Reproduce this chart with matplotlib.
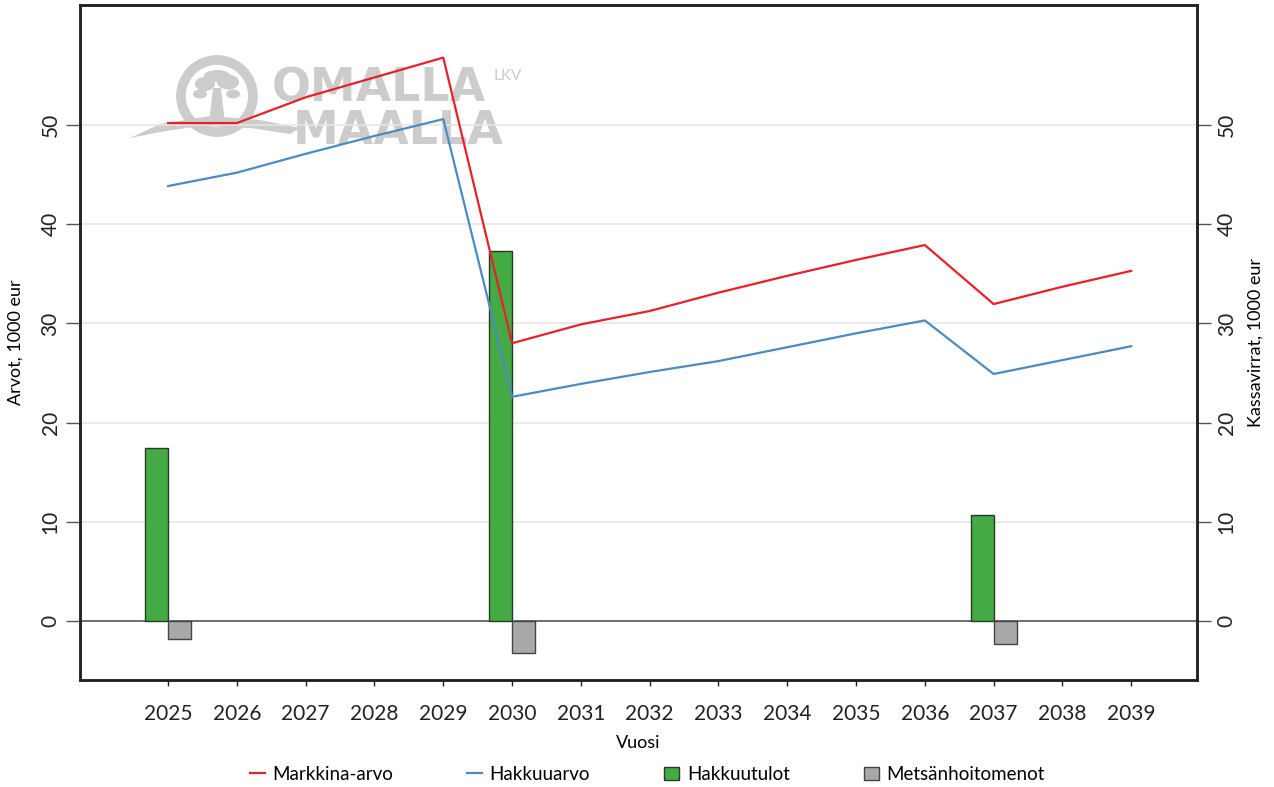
import matplotlib
matplotlib.use("Agg")
import matplotlib.pyplot as plt
import numpy as np
from matplotlib.lines import Line2D
from matplotlib.patches import Patch, Circle, Ellipse, Polygon

plt.rcParams['font.family'] = ['Lato', 'DejaVu Sans']

years = [2025, 2026, 2027, 2028, 2029, 2030, 2031, 2032, 2033, 2034, 2035, 2036, 2037, 2038, 2039]
markkina_arvo = [50.2, 50.2, 52.8, 54.8, 56.8, 28.0, 29.9, 31.25, 33.1, 34.8, 36.4, 37.9, 31.95, 33.7, 35.3]
hakkuuarvo = [43.85, 45.2, 47.1, 48.9, 50.6, 22.6, 23.9, 25.1, 26.2, 27.6, 29.0, 30.3, 24.9, 26.3, 27.7]
bar_years = [2025, 2030, 2037]
hakkuutulot = [17.4, 37.3, 10.7]
metsanhoitomenot = [-1.8, -3.2, -2.3]
yticks = [0, 10, 20, 30, 40, 50]

fig = plt.figure(figsize=(12.74, 7.87), dpi=100)
ax = fig.add_axes([0.0628, 0.136, 0.877, 0.8576])
ax2 = ax.twinx()

ylim = (-5.95, 62.1)
xlim = (2023.72, 2039.96)

# watermark (logo) in figure-inch coordinates
wm = '#cccccc'
H = 7.87
def px(x, y):
    return (x / 100.0, (H * 100 - y) / 100.0)

tr = fig.dpi_scale_trans
ring = Circle(px(217, 96), 0.36, transform=tr, fill=False, lw=7, ec=wm, zorder=0)
ax2.add_artist(ring)
for (cx, cy, w, h) in [(205, 84, 20, 14), (228, 82, 22, 15), (217, 76, 26, 12), (200, 94, 14, 9), (233, 94, 14, 9)]:
    ax2.add_artist(Ellipse(px(cx, cy), w / 100, h / 100, transform=tr, fc=wm, ec='none', zorder=0))
trunk = Polygon([px(213, 88), px(221, 88), px(225, 124), px(209, 124)], closed=True,
                transform=tr, fc=wm, ec='none', zorder=0)
ax2.add_artist(trunk)
swoosh = Polygon([px(130, 138), px(160, 124), px(210, 116), px(260, 120), px(300, 128),
                  px(290, 134), px(250, 128), px(200, 126), px(160, 132)], closed=True,
                 transform=tr, fc=wm, ec='none', zorder=0)
ax2.add_artist(swoosh)
ax2.text(272 / 1274, 1 - 89 / 787, 'OMALLA', fontsize=33, fontweight='bold', color=wm,
         ha='left', va='center', zorder=0, family='DejaVu Sans', transform=fig.transFigure)
ax2.text(293 / 1274, 1 - 131 / 787, 'MAALLA', fontsize=33, fontweight='bold', color=wm,
         ha='left', va='center', zorder=0, family='DejaVu Sans', transform=fig.transFigure)
ax2.text(494 / 1274, 1 - 76 / 787, 'LKV', fontsize=11, color=wm, ha='left', va='center',
         zorder=0, transform=fig.transFigure)

for t in yticks[1:]:
    ax2.axhline(t, color='#e6e6e6', lw=1.2, zorder=1)
ax2.axhline(0, color='#555555', lw=1.2, zorder=1.5)

bw = 0.335
ax2.bar(bar_years, hakkuutulot, width=bw, align='edge', color='#44ab44',
        edgecolor='#2a3a2a', lw=1.0, zorder=2)
ax2.bar(bar_years, metsanhoitomenot, width=bw, align='edge', color='#a8a8a8',
        edgecolor='#444444', lw=1.0, zorder=2)
for p in ax2.patches[-2 * len(bar_years):-len(bar_years)]:
    p.set_x(p.get_x() - bw)

ax.set_zorder(ax2.get_zorder() + 1)
ax.patch.set_visible(False)
ax.plot(years, markkina_arvo, color='#e8202a', lw=1.6, zorder=5)
ax.plot(years, hakkuuarvo, color='#4a8cc2', lw=1.6, zorder=5)

for a in (ax, ax2):
    a.set_ylim(*ylim)
    a.set_xlim(*xlim)
    a.set_yticks(yticks)
    for s in a.spines.values():
        s.set_linewidth(1.8)
        s.set_color('#222222')

ax.set_xticks(years)
ax.set_xticklabels([str(y) for y in years], fontsize=15)
ax.tick_params(axis='x', length=4, width=1, colors='#222222', pad=13)
ax.tick_params(axis='y', length=10, width=1, colors='#555555', labelcolor='#222222',
               labelsize=15, labelrotation=90, pad=4)
ax2.tick_params(axis='y', length=10, width=1, colors='#555555', labelcolor='#222222',
                labelsize=15, labelrotation=90, pad=4)
for lab in ax.get_yticklabels() + ax2.get_yticklabels():
    lab.set_va('center')

ax.set_ylabel('Arvot, 1000 eur', fontsize=13, labelpad=12)
ax2.set_ylabel('Kassavirrat, 1000 eur', fontsize=13, labelpad=8)
ax.set_xlabel('Vuosi', fontsize=13, labelpad=8)

handles = [Line2D([0], [0], color='#e8202a', lw=1.6),
           Line2D([0], [0], color='#4a8cc2', lw=1.6),
           Patch(facecolor='#44ab44', edgecolor='#2a3a2a'),
           Patch(facecolor='#a8a8a8', edgecolor='#444444')]
labels = ['Markkina-arvo', 'Hakkuuarvo', 'Hakkuutulot', 'Metsänhoitomenot']
fig.legend(handles, labels, loc='center', bbox_to_anchor=(0.508, 0.016), ncol=4,
           frameon=False, fontsize=13.5, handlelength=0.8, handletextpad=0.4,
           columnspacing=3.95)

fig.savefig('out.png', dpi=100)
